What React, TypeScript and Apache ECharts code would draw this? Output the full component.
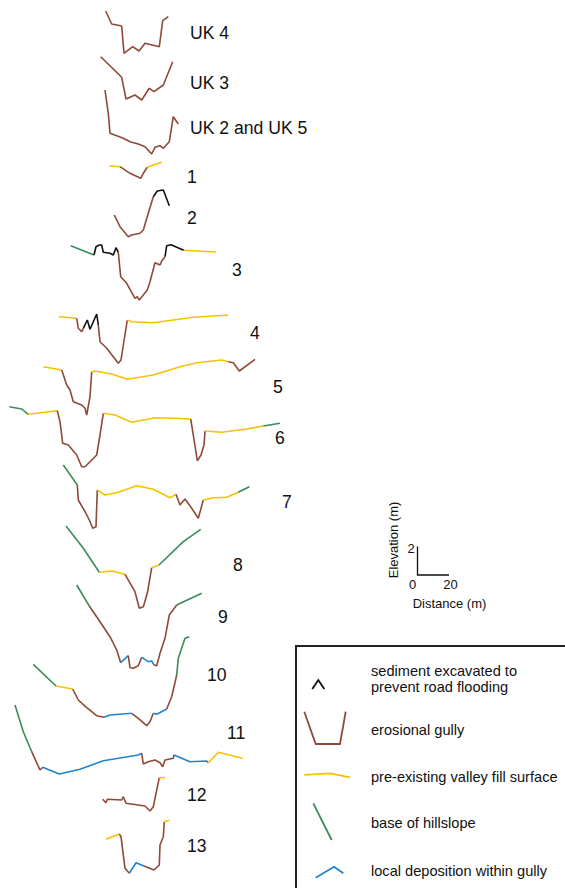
import React, { useEffect, useRef } from "react";
import * as echarts from "echarts";

type Seg = [string, number[][]];

// Profile traces (picture units: x = distance, y = depth position on the sheet)
const profileUK4: Seg[] = [
  ["gully", [[105.7, 11], [111.7, 24], [121.7, 26], [124, 53.3], [132.7, 46.7], [139, 51], [145, 43.3], [159.3, 46.7], [162.7, 20.7], [168.3, 16.7]]],
];
const profileUK3: Seg[] = [
  ["gully", [[100.7, 56.7], [121.7, 77.3], [126, 99], [135, 95], [141.7, 100], [149.3, 88.3], [154, 91.7], [163.3, 85], [172.7, 61.7]]],
];
const profileUK25: Seg[] = [
  ["gully", [[105, 90], [108.3, 113.3], [110, 133.3], [123.3, 138.3], [130, 141.7], [138.3, 144], [145, 146.7], [151.7, 154], [155, 147.3], [160, 145.7], [163.3, 148.3], [169.3, 141.7], [173.3, 116.7], [178.3, 124]]],
];
const profile1: Seg[] = [
  ["fill", [[109.3, 165.7], [120, 166.7]]],
  ["gully", [[120, 166.7], [130, 173.3], [140.7, 178.3], [143.3, 173.3], [147.3, 167.3]]],
  ["fill", [[147.3, 167.3], [161.7, 162.3]]],
];
const profile2: Seg[] = [
  ["gully", [[114.3, 215], [120, 226.7], [128.3, 236.7], [131.7, 235], [140, 233.3], [143.3, 230], [148.3, 213.3], [153.3, 196.7]]],
  ["excavated", [[153.3, 196.7], [157.3, 191], [163.3, 190], [169.3, 205.7]]],
];
const profile3: Seg[] = [
  ["hill", [[70.7, 245.7], [94, 255]]],
  ["excavated", [[94, 255], [96, 246.7], [99.3, 245], [101.7, 245], [103.3, 252.3], [110, 253.3], [113.3, 255], [116, 247.7], [118.3, 252.3]]],
  ["gully", [[118.3, 252.3], [120.7, 276.7], [126.7, 283.3], [135, 298.3], [137.3, 296.7], [139.3, 300], [147.3, 290], [150, 281.7], [155, 262.7], [160, 265], [161.7, 261], [165, 256.7]]],
  ["excavated", [[165, 256.7], [166.7, 245.7], [171, 244.7], [183.7, 250.3]]],
  ["fill", [[183.7, 250.3], [216, 252]]],
];
const profile4: Seg[] = [
  ["fill", [[59, 316.7], [76.7, 318.3]]],
  ["gully", [[76.7, 318.3], [78.3, 328.3], [81.7, 331.7], [83.3, 328.3]]],
  ["excavated", [[83.3, 328.3], [87.3, 320], [90, 329.3], [96.7, 314], [98.3, 325]]],
  ["gully", [[98.3, 325], [100, 341.7], [106.7, 348.3], [118.3, 363.3], [121, 360], [127.3, 320]]],
  ["fill", [[127.3, 320], [131.7, 321.7], [153.3, 322.7], [173.3, 320], [193.3, 317.3], [228.3, 315]]],
];
const profile5: Seg[] = [
  ["fill", [[43.3, 366.7], [61.7, 370]]],
  ["gully", [[61.7, 370], [66.7, 385], [70, 390], [73.3, 401.7], [81.7, 405], [85, 408.3], [86.7, 415], [90, 396.7], [91.7, 371.7]]],
  ["fill", [[91.7, 371.7], [95, 371], [111.7, 374], [127.3, 379.3], [153.3, 375], [180, 366.7], [196.7, 362.7], [221.7, 360], [228.3, 361.7]]],
  ["gully", [[228.3, 361.7], [233.3, 362.7], [239.3, 371], [255, 359.3]]],
];
const profile6: Seg[] = [
  ["hill", [[9.3, 406.7], [21.7, 409], [28.3, 414.3]]],
  ["fill", [[28.3, 414.3], [57.3, 410.7]]],
  ["gully", [[57.3, 410.7], [60, 421.7], [62.7, 443.3], [68.3, 445], [76.7, 455], [81.7, 466.7], [85, 466.7], [96.7, 455], [100, 435], [103.3, 413.3]]],
  ["fill", [[103.3, 413.3], [115, 415], [131.7, 422.3], [155, 417.7], [173.3, 418.3], [190.7, 419]]],
  ["gully", [[190.7, 419], [193.3, 435], [197.3, 460.7], [201, 455], [204, 445], [205, 431]]],
  ["fill", [[205, 431], [221.7, 432.3], [246.7, 429], [263.3, 426]]],
  ["hill", [[263.3, 426], [280, 423.3]]],
];
const profile7: Seg[] = [
  ["hill", [[63.3, 465], [77.3, 485]]],
  ["gully", [[77.3, 485], [78.3, 500], [85, 511.7], [89.3, 520], [92.7, 528.3], [96, 526.7], [97.3, 490]]],
  ["fill", [[97.3, 490], [105, 495], [118.3, 492.3], [136.7, 485.7], [153.3, 489.3], [170, 497.7], [176, 494.3]]],
  ["gully", [[176, 494.3], [180, 505], [185, 499], [191.7, 508.3], [198.3, 518.3], [203.3, 500]]],
  ["fill", [[203.3, 500], [213.3, 497.7], [226.7, 497.3], [238.3, 492.3]]],
  ["hill", [[238.3, 492.3], [249.3, 486.7]]],
];
const profile8: Seg[] = [
  ["hill", [[66, 526], [83.3, 548.3], [99.3, 572.3]]],
  ["fill", [[99.3, 572.3], [111.7, 571], [125, 574.3]]],
  ["gully", [[125, 574.3], [135, 591.7], [139.3, 608.3], [143.3, 606.7], [147.3, 593.3], [151.7, 567.7]]],
  ["fill", [[151.7, 567.7], [159, 565]]],
  ["hill", [[159, 565], [183.3, 541.7], [200.7, 529.3]]],
];
const profile9: Seg[] = [
  ["hill", [[76.7, 585], [89.3, 606]]],
  ["gully", [[89.3, 606], [100, 621.7], [110, 636.7], [116.7, 650], [120.7, 662.7]]],
  ["deposit", [[120.7, 662.7], [128.3, 655.7]]],
  ["gully", [[128.3, 655.7], [130, 667.7], [133.3, 668.3], [138.3, 665.7], [141.7, 657.3]]],
  ["deposit", [[141.7, 657.3], [148.3, 661.7], [151.7, 661], [154, 665]]],
  ["gully", [[154, 665], [156.7, 665.7], [160, 653.3], [165, 638.3], [169.3, 615], [176.7, 605]]],
  ["hill", [[176.7, 605], [201.7, 593.3]]],
];
const profile10: Seg[] = [
  ["hill", [[33.3, 664.3], [56, 686]]],
  ["fill", [[56, 686], [72.7, 689]]],
  ["gully", [[72.7, 689], [78.3, 700], [86.7, 707.7], [96.7, 715.7], [104, 717.3]]],
  ["deposit", [[104, 717.3], [110, 715], [131.7, 713.3]]],
  ["gully", [[131.7, 713.3], [138.3, 718.3], [146.7, 725.7], [150, 721.7], [153.3, 713.3]]],
  ["deposit", [[153.3, 713.3], [156.7, 714.3], [166.7, 709]]],
  ["gully", [[166.7, 709], [171.7, 696.7], [176.7, 675]]],
  ["hill", [[176.7, 675], [178.3, 658.3], [185, 638.3], [189.3, 636.7]]],
];
const profile11: Seg[] = [
  ["hill", [[15, 705], [23.3, 731.7], [31.7, 751.7]]],
  ["gully", [[31.7, 751.7], [40, 770], [42.7, 767.3]]],
  ["deposit", [[42.7, 767.3], [59.3, 774], [80, 769.3], [103.3, 760.7], [138.3, 755], [141.7, 753.3]]],
  ["gully", [[141.7, 753.3], [143.3, 764], [148.3, 761.7], [155, 760], [160, 762.7], [162.7, 766.7], [165, 760], [173.3, 758.3], [174, 755]]],
  ["deposit", [[174, 755], [190, 761.7], [206.7, 761], [208.3, 762.7]]],
  ["fill", [[208.3, 762.7], [218.3, 752.3], [242.7, 758.3]]],
];
const profile12: Seg[] = [
  ["gully", [[102.7, 799.3], [106, 802.7], [107.3, 799.3], [121.7, 800], [123.3, 796.7], [126, 803.3], [145, 806], [150, 811], [153.3, 806.7], [159.3, 777.7]]],
  ["fill", [[159.3, 777.7], [165, 777.7]]],
];
const profile13: Seg[] = [
  ["fill", [[106, 839.3], [119.3, 834]]],
  ["gully", [[119.3, 834], [121, 836.7], [125, 868.3], [129.3, 873.3]]],
  ["deposit", [[129.3, 873.3], [136, 862.7], [144, 866]]],
  ["gully", [[144, 866], [154, 870], [159.3, 865], [160, 845], [163.3, 836.7], [164.3, 821.7]]],
  ["fill", [[164.3, 821.7], [169.3, 820.3]]],
];

const profiles: Seg[][] = [
  profileUK4, profileUK3, profileUK25, profile1, profile2, profile3, profile4,
  profile5, profile6, profile7, profile8, profile9, profile10, profile11, profile12, profile13,
];
const profileNames = ["UK 4", "UK 3", "UK 2 and UK 5", "1", "2", "3", "4", "5", "6", "7", "8", "9", "10", "11", "12", "13"];

const legendKeys = ["excavated", "gully", "fill", "hill", "deposit"];
const legendTexts = [
  "sediment excavated to\nprevent road flooding",
  "erosional gully",
  "pre-existing valley fill surface",
  "base of hillslope",
  "local deposition within gully",
];
const scaleTicks = ["0", "20", "2"];
const scaleTitles = ["Distance (m)", "Elevation (m)"];

const COLORS: Record<string, string> = {
  excavated: "#111111",
  gully: "#8e4a38",
  fill: "#f6c200",
  hill: "#3a8c5c",
  deposit: "#1e84d0",
};

// label anchor positions (layout)
const labelPos: number[][] = [
  [190, 33], [190, 83], [190, 128], [187, 177], [187, 218], [232, 270], [250, 333],
  [273, 387], [275, 438], [282, 502], [233, 565], [218, 617], [207, 675], [227, 733],
  [187, 795], [187, 846],
];

export default function App() {
  const ref = useRef<HTMLDivElement>(null);
  useEffect(() => {
    document.body.style.margin = "0";
    const chart = echarts.init(ref.current!, null, { renderer: "svg" });
    const series: any[] = [];
    profiles.forEach((p, pi) => {
      p.forEach((s, si) => {
        series.push({
          type: "line",
          name: `${profileNames[pi]}-${si}`,
          data: s[1],
          symbol: "none",
          silent: true,
          lineStyle: { color: COLORS[s[0]], width: 1.6 },
          z: s[0] === "excavated" ? 3 : 2,
        });
      });
    });
    const font = "Liberation Sans, Arial, sans-serif";
    const graphics: any[] = [];
    profileNames.forEach((n, i) => {
      graphics.push({
        type: "text",
        x: labelPos[i][0],
        y: labelPos[i][1],
        style: { text: n, fontSize: 17.6, fontFamily: font, fill: "#111", verticalAlign: "middle", align: "left" },
      });
    });
    // scale bar
    const sf = { fontSize: 13, fontFamily: font, fill: "#111", verticalAlign: "middle" };
    graphics.push(
      { type: "polyline", shape: { points: [[417.5, 546.5], [417.5, 575], [449, 575]] }, style: { stroke: "#111", lineWidth: 1.3, fill: null } },
      { type: "text", x: 411, y: 548, style: { ...sf, text: scaleTicks[2], align: "center" } },
      { type: "text", x: 412.5, y: 584, style: { ...sf, text: scaleTicks[0], align: "center" } },
      { type: "text", x: 450.5, y: 584, style: { ...sf, text: scaleTicks[1], align: "center" } },
      { type: "text", x: 449.5, y: 603, style: { ...sf, text: scaleTitles[0], align: "center" } },
      { type: "text", x: 393.5, y: 540, rotation: Math.PI / 2, style: { ...sf, text: scaleTitles[1], align: "center" } }
    );
    // legend box
    graphics.push({ type: "polyline", shape: { points: [[296, 895], [296, 646], [570, 646]] }, style: { stroke: "#222", lineWidth: 2, fill: null } });
    const icons: number[][][] = [
      [[312.3, 689], [318.3, 680], [324.3, 689]],
      [[304.3, 711.7], [315.7, 744], [340, 744], [345.7, 711.7]],
      [[304.3, 774.8], [330, 773.3], [350, 777.3]],
      [[313.3, 803.3], [331.7, 840]],
      [[315.7, 877.7], [334, 866.7], [343.3, 873.3]],
    ];
    const textY = [678.5, 730, 776.5, 823.3, 871];
    legendKeys.forEach((k, i) => {
      graphics.push({ type: "polyline", shape: { points: icons[i] }, style: { stroke: COLORS[k], lineWidth: 1.8, fill: null } });
      graphics.push({
        type: "text", x: 371, y: textY[i],
        style: { text: legendTexts[i], fontSize: 14.6, lineHeight: 16, fontFamily: font, fill: "#111", align: "left", verticalAlign: "middle" },
      });
    });
    chart.setOption({
      animation: false,
      backgroundColor: "#ffffff",
      grid: { left: 0, right: 0, top: 0, bottom: 0 },
      xAxis: { type: "value", min: 0, max: 565, show: false },
      yAxis: { type: "value", min: 0, max: 888, inverse: true, show: false },
      series,
      graphic: graphics,
    });
    return () => chart.dispose();
  }, []);
  return <div ref={ref} style={{ width: 565, height: 888 }} />;
}
